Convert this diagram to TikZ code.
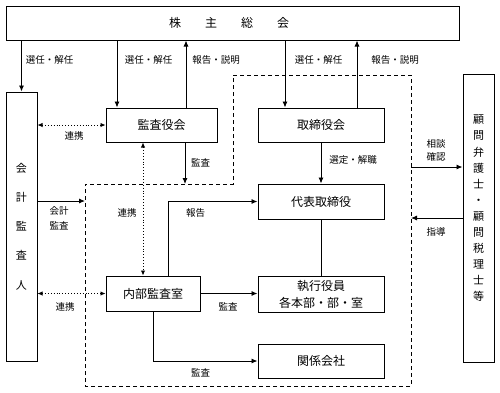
\documentclass[tikz,border=0pt]{standalone}
\usepackage{fontspec}
\newfontfamily\jp{Noto Sans CJK JP}
\usetikzlibrary{arrows.meta}
\begin{document}
\begin{tikzpicture}[x=1pt,y=-1pt,
  box/.style={draw,line width=1pt,rectangle,inner sep=0pt,font=\jp\fontsize{12}{14}\selectfont},
  lbl/.style={font=\jp\fontsize{9.5}{12}\selectfont,inner sep=0pt,align=center},
  arr/.style={line width=0.9pt,-{Latex[length=6pt,width=5pt]}},
  ln/.style={line width=0.9pt},
  dotarr/.style={line width=0.9pt,dotted,{Latex[length=5pt,width=4.5pt]}-{Latex[length=5pt,width=4.5pt]}},
  dbox/.style={line width=1pt,dash pattern=on 4pt off 3pt}]
\useasboundingbox (0,0) rectangle (500,392);
% boxes
\node[box,minimum width=453pt,minimum height=34pt] (soukai) at (232.5,23) {};
\node[font=\jp\fontsize{12}{14}\selectfont,inner sep=0pt] (soukaitext) at (229,23) {株　　主　　総　　会};
\node[box,minimum width=31pt,minimum height=269pt,align=center,font=\jp\fontsize{11}{29.2}\selectfont] (kaikei) at (21.5,226.5) {会\\計\\監\\査\\人};
\node[box,minimum width=111pt,minimum height=34pt] (kansayaku) at (161.5,125) {監査役会};
\node[box,minimum width=126pt,minimum height=34pt] (torishimari) at (321,125) {取締役会};
\node[box,minimum width=126pt,minimum height=35pt] (daihyo) at (321,201.5) {代表取締役};
\node[box,minimum width=94pt,minimum height=35pt] (naibu) at (153,293.5) {内部監査室};
\node[box,minimum width=126pt,minimum height=36pt,align=center,font=\jp\fontsize{12}{17}\selectfont] (shikko) at (321,294) {執行役員\\各本部・部・室};
\node[box,minimum width=126pt,minimum height=34pt] (kankei) at (321,361) {関係会社};
\node[box,minimum width=31pt,minimum height=288pt] (komon) at (478.5,218) {};
\node[align=center,inner sep=0pt,font=\jp\fontsize{11}{16.1}\selectfont] (komontext) at (478.5,208.5) {顧\\問\\弁\\護\\士\\・\\顧\\問\\税\\理\\士\\等};
% dashed region
\coordinate (d1) at (233,75);
\coordinate (d2) at (411,75);
\coordinate (d3) at (411,386);
\coordinate (d4) at (85,386);
\coordinate (d5) at (85,184);
\coordinate (d6) at (233,184);
\draw[dbox] (d1) -- (d2) -- (d3) -- (d4) -- (d5) -- (d6) -- cycle;
% helper coordinates
\coordinate (c117) at (117,0);
\coordinate (c186) at (186,0);
\coordinate (c285) at (285,0);
\coordinate (c357) at (357,0);
\coordinate (c185) at (185,0);
\coordinate (c143) at (143,0);
\coordinate (c168) at (168,0);
\coordinate (y201) at (0,201);
\coordinate (y167) at (0,167);
\coordinate (y218) at (0,218);
% connectors from top
\draw[arr] (kaikei.north |- soukai.south) -- (kaikei.north);
\draw[arr] (c117 |- soukai.south) -- (c117 |- kansayaku.north);
\draw[arr] (c186 |- kansayaku.north) -- (c186 |- soukai.south);
\draw[arr] (c285 |- soukai.south) -- (c285 |- torishimari.north);
\draw[arr] (c357 |- torishimari.north) -- (c357 |- soukai.south);
% other connectors
\draw[dotarr] (kaikei.east |- kansayaku.west) -- (kansayaku.west);
\draw[arr] (c185 |- kansayaku.south) -- (c185 |- d5);
\draw[arr] (kaikei.east |- y201) -- (d5 |- y201);
\draw[dotarr] (c143 |- kansayaku.south) -- (c143 |- naibu.north);
\draw[arr] (c168 |- naibu.north) |- (daihyo.west);
\draw[arr] (torishimari.south) -- (daihyo.north);
\draw[ln] (daihyo.south) -- (shikko.north);
\draw[dotarr] (kaikei.east |- naibu.west) -- (naibu.west);
\draw[arr] (naibu.east) -- (shikko.west |- naibu.east);
\draw[arr] (naibu.south) |- (kankei.west);
\draw[arr] (d2 |- y167) -- (komon.west |- y167);
\draw[arr] (komon.west |- y218) -- (d2 |- y218);
% labels
\node[lbl] (l1) at (49.5,60) {選任・解任};
\node[lbl] (l2) at (148.5,60) {選任・解任};
\node[lbl] (l3) at (216,60) {報告・説明};
\node[lbl] (l4) at (318.5,60) {選任・解任};
\node[lbl] (l5) at (395,60) {報告・説明};
\node[lbl] (l6) at (74,136) {連携};
\node[lbl] (l7) at (200.5,163) {監査};
\node[lbl,font=\jp\fontsize{9.5}{15}\selectfont] (l8) at (59,218) {会計\\監査};
\node[lbl] (l9) at (127,213) {連携};
\node[lbl] (l10) at (195.5,213) {報告};
\node[lbl] (l11) at (353,160) {選定・解職};
\node[lbl,font=\jp\fontsize{9.5}{13}\selectfont] (l12) at (436,150.5) {相談\\確認};
\node[lbl] (l13) at (436,232) {指導};
\node[lbl] (l14) at (65,307) {連携};
\node[lbl] (l15) at (228,307) {監査};
\node[lbl] (l16) at (200.5,373) {監査};
\end{tikzpicture}
\end{document}
